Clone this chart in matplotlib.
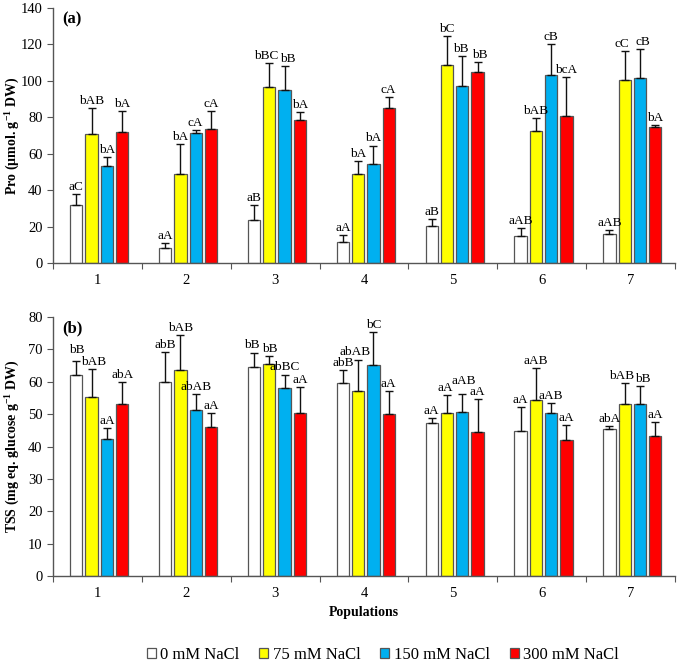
import numpy as np
import matplotlib
matplotlib.use("Agg")
import matplotlib.pyplot as plt

plt.rcParams['font.family'] = ['Liberation Serif', 'DejaVu Serif']
plt.rcParams['mathtext.fontset'] = 'custom'
plt.rcParams['mathtext.rm'] = 'Liberation Serif'
plt.rcParams['mathtext.bf'] = 'Liberation Serif:bold'

populations = ["1", "2", "3", "4", "5", "6", "7"]
treatments = ["0 mM NaCl", "75 mM NaCl", "150 mM NaCl", "300 mM NaCl"]
colors = ["#FFFFFF", "#FFFF00", "#00B0F0", "#FF0000"]

# Panel (a): proline, one list per treatment (populations 1-7)
pro_0 = [32.0, 8.2, 23.4, 11.5, 20.5, 14.8, 15.9]
pro_75 = [71.0, 48.8, 96.9, 49.0, 108.8, 72.2, 100.7]
pro_150 = [53.5, 71.3, 94.9, 54.1, 97.4, 103.1, 101.6]
pro_300 = [71.8, 73.5, 78.6, 85.0, 105.1, 80.6, 74.8]
pro_0_err = [6.0, 2.6, 8.2, 4.0, 3.5, 4.2, 2.4]
pro_75_err = [14.2, 16.5, 13.1, 7.1, 15.9, 7.5, 15.6]
pro_150_err = [4.5, 1.7, 13.3, 10.4, 16.3, 17.0, 15.8]
pro_300_err = [11.7, 9.7, 4.2, 5.9, 5.3, 21.4, 1.1]
pro_labels = [
    ["aC", "aA", "aB", "aA", "aB", "aAB", "aAB"],
    ["bAB", "bA", "bBC", "bA", "bC", "bAB", "cC"],
    ["bA", "cA", "bB", "bA", "bB", "cB", "cB"],
    ["bA", "cA", "bA", "cA", "bB", "bcA", "bA"],
]

# Panel (b): total soluble sugars
tss_0 = [62.1, 60.0, 64.7, 59.5, 47.3, 44.7, 45.3]
tss_75 = [55.3, 63.7, 65.4, 57.0, 50.4, 54.4, 53.1]
tss_150 = [42.4, 51.3, 58.2, 65.3, 50.6, 50.5, 53.2]
tss_300 = [53.0, 46.0, 50.5, 49.9, 44.4, 41.9, 43.1]
tss_0_err = [4.4, 9.2, 4.3, 4.0, 1.6, 7.4, 1.1]
tss_75_err = [8.7, 10.8, 2.5, 9.6, 5.5, 9.8, 6.5]
tss_150_err = [3.4, 4.9, 4.0, 10.1, 5.7, 2.9, 5.4]
tss_300_err = [7.0, 4.3, 7.9, 7.1, 10.2, 4.7, 4.4]
tss_labels = [
    ["bB", "abB", "bB", "abB", "aA", "aA", "abA"],
    ["bAB", "bAB", "bB", "abAB", "aA", "aAB", "bAB"],
    ["aA", "abAB", "abBC", "bC", "aAB", "aAB", "bB"],
    ["abA", "aA", "aA", "aA", "aA", "aA", "aA"],
]

# small hand nudges of letter labels (treatment, population) -> (dx, dy)
pro_nudge = {(1, 2): (-0.04, 0), (2, 2): (0.04, 0), (1, 6): (-0.03, 0),
             (2, 6): (0.03, 0), (2, 4): (-0.02, 0), (3, 4): (0.02, 0)}
tss_nudge = {(0, 0): (0, 1.2), (1, 0): (0.02, 0), (2, 4): (0.02, 1.8),
             (1, 4): (-0.02, 0), (1, 6): (-0.04, 0), (2, 6): (0.03, 0),
             (1, 2): (0.0, 0), (0, 2): (-0.03, 0), (1, 3): (-0.03, 0.5)}

W, H = 687, 668
fig = plt.figure(figsize=(W / 100, H / 100), dpi=100)

ax_a = fig.add_axes([53 / W, 1 - 263 / H, 622 / W, 255 / H])
ax_b = fig.add_axes([53 / W, 1 - 576 / H, 622 / W, 259 / H])

x = np.arange(1, len(populations) + 1)
pitch = 0.172
width = 0.138
offsets = (np.arange(4) - 1.5) * pitch + 0.02


def draw_panel(ax, series, errors, labels, nudge, ymax, ystep, ylabel, tag, lab_off):
    bars = []
    for k in range(4):
        xs = x + offsets[k]
        b = ax.bar(xs, series[k], width=width, color=colors[k],
                   edgecolor="#555555", linewidth=0.9, zorder=2)
        ax.errorbar(xs, series[k], yerr=[np.zeros(len(x)), errors[k]],
                    fmt="none", ecolor="#111111", elinewidth=1.0,
                    capsize=3, capthick=1.0, zorder=3)
        for i, (xi, v, e, t) in enumerate(zip(xs, series[k], errors[k], labels[k])):
            dx, dy = nudge.get((k, i), (0, 0))
            ax.text(xi + dx, v + e + lab_off + dy, t, ha="center", va="bottom",
                    fontsize=9.5, zorder=4)
        bars.append(b)
    ax.set_xlim(0.5, 7.5)
    ax.set_ylim(0, ymax)
    ax.set_yticks(np.arange(0, ymax + 1, ystep))
    ax.set_xticks(np.arange(0.5, 8.0, 1.0))
    ax.set_xticklabels([])
    ax.set_xticks(x, minor=True)
    ax.set_xticklabels(populations, minor=True)
    ax.tick_params(axis="x", which="major", direction="out", length=4,
                   color="#555555")
    ax.tick_params(axis="x", which="minor", length=0, pad=8, labelsize=10.5)
    ax.tick_params(axis="y", direction="out", length=4, color="#555555",
                   labelsize=10.5)
    for s in ["top", "right"]:
        ax.spines[s].set_visible(False)
    for s in ["left", "bottom"]:
        ax.spines[s].set_color("#555555")
        ax.spines[s].set_linewidth(1.0)
    ax.set_ylabel(ylabel, fontsize=10, fontweight="bold")
    ax.yaxis.set_label_coords(-0.051, 0.5)
    ax.text(0.015, 0.985, tag, transform=ax.transAxes, ha="left", va="top",
            fontsize=12, fontweight="bold")
    return bars


draw_panel(ax_a, [pro_0, pro_75, pro_150, pro_300],
           [pro_0_err, pro_75_err, pro_150_err, pro_300_err],
           pro_labels, pro_nudge, 140, 20, "Pro (µmol. g$^{\\mathbf{-1}}$ DW)",
           "(a)", 0.6)
bars = draw_panel(ax_b, [tss_0, tss_75, tss_150, tss_300],
                  [tss_0_err, tss_75_err, tss_150_err, tss_300_err],
                  tss_labels, tss_nudge, 80, 10,
                  "TSS (mg eq. glucose g$^{\\mathbf{-1}}$ DW)", "(b)", 0.35)
ax_b.set_xlabel("Populations", fontsize=10, fontweight="bold", labelpad=4)

fig.legend(bars, treatments, loc="center", bbox_to_anchor=(0.557, 1 - 655 / H),
           ncol=4, frameon=False, fontsize=12, handlelength=0.55,
           handleheight=0.55, handletextpad=0.25, columnspacing=1.2)

fig.savefig("out.png", dpi=100)
